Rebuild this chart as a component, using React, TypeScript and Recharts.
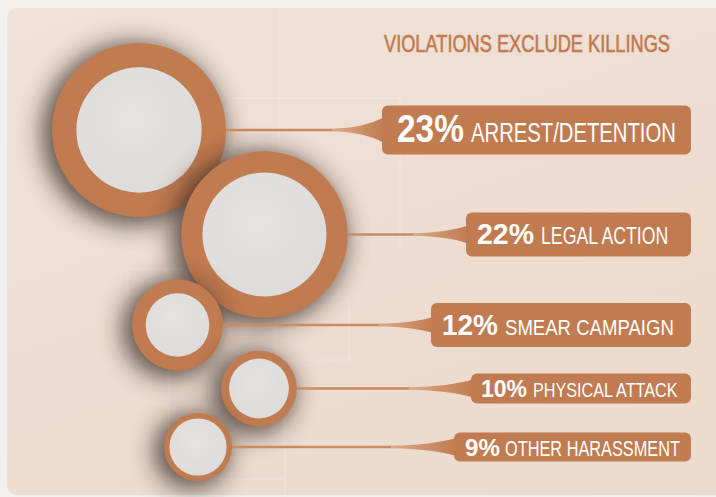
import { ScatterChart, Scatter, XAxis, YAxis, ZAxis, Customized } from 'recharts';

const title = 'VIOLATIONS EXCLUDE KILLINGS';
const categories = ['ARREST/DETENTION', 'LEGAL ACTION', 'SMEAR CAMPAIGN', 'PHYSICAL ATTACK', 'OTHER HARASSMENT'];
const shares = [23, 22, 12, 10, 9];

// layout only: bubble centre, ring ratio, label box and text placement
const layout = [
  { cx: 139, cy: 130, inner: 0.72, boxX: 382, boxH: 49, taperLen: 50, taperH: 26, pctX: 397, pctW: 67, pctSize: 38.5, lblX: 471, lblW: 205, lblSize: 27, base: 11.5 },
  { cx: 264.5, cy: 234.5, inner: 0.745, boxX: 466, boxH: 44, taperLen: 53, taperH: 18, pctX: 477, pctW: 57, pctSize: 30, lblX: 541, lblW: 129, lblSize: 23, base: 9.5 },
  { cx: 177.5, cy: 325, inner: 0.7, boxX: 431, boxH: 44, taperLen: 52, taperH: 16, pctX: 442, pctW: 56, pctSize: 30, lblX: 505, lblW: 169, lblSize: 23, base: 9.5 },
  { cx: 259, cy: 388.5, inner: 0.79, boxX: 471, boxH: 30, taperLen: 62, taperH: 18, pctX: 481, pctW: 46, pctSize: 24.5, lblX: 533, lblW: 146, lblSize: 20, base: 8.5 },
  { cx: 198, cy: 447, inner: 0.84, boxX: 454, boxH: 29, taperLen: 63, taperH: 18, pctX: 465, pctW: 35, pctSize: 24.5, lblX: 505, lblW: 175, lblSize: 21.5, base: 8.5 },
];

const BOX_RIGHT = 691;
const BROWN = '#c17b50';
const FONT = "'Liberation Sans', Arial, sans-serif";
const maxShare = Math.max(...shares);
const MAX_R = 87;

const data = shares.map((v, i) => ({
  x: layout[i].cx,
  y: layout[i].cy,
  z: v * v, // radius grows linearly with the share
  share: v,
  label: categories[i],
  lay: layout[i],
}));

let ctx: CanvasRenderingContext2D | null = null;
const textWidth = (txt: string, size: number, weight: number) => {
  if (!ctx) ctx = document.createElement('canvas').getContext('2d');
  if (!ctx) return txt.length * size * 0.6;
  ctx.font = `${weight} ${size}px 'Liberation Sans', Arial, sans-serif`;
  return ctx.measureText(txt).width;
};

// condensed look: squeeze a normal face horizontally to the measured width
const Narrow = ({ x, y, w, size, weight = 400, fill = '#fff', children }: any) => {
  const s = w / textWidth(children, size, weight);
  return (
    <text
      transform={`translate(${x},${y}) scale(${s},1)`}
      fontFamily={FONT}
      fontWeight={weight}
      fontSize={size}
      fill={fill}
    >
      {children}
    </text>
  );
};

const Bubble = (props: any) => {
  const { cx, cy, payload } = props;
  if (cx == null || cy == null || !payload) return null;
  const r = props.width ? props.width / 2 : Math.sqrt((props.size || 0) / Math.PI);
  const l = payload.lay;
  const lineStart = cx + r;
  const tx = l.boxX - l.taperLen;
  const boxTop = cy - l.boxH / 2;
  const h = l.taperH / 2;
  return (
    <g>
      <circle cx={cx - 6} cy={cy + 4} r={r + 4} fill="#2e211a" opacity={0.75} filter="url(#blurShadow)" />
      <line x1={lineStart} y1={cy} x2={tx + 2} y2={cy} stroke="#cc8b62" strokeWidth={2.5} />
      <path
        d={`M${tx},${cy - 1.3} Q${l.boxX - l.taperLen * 0.35},${cy - 2} ${l.boxX + 2},${cy - h} L${l.boxX + 2},${cy + h} Q${l.boxX - l.taperLen * 0.35},${cy + 2} ${tx},${cy + 1.3} Z`}
        fill="url(#taperGrad)"
      />
      <circle cx={cx} cy={cy} r={r} fill={BROWN} />
      <circle cx={cx} cy={cy} r={r * l.inner} fill="url(#discGrad)" />
      <rect x={l.boxX} y={boxTop} width={BOX_RIGHT - l.boxX} height={l.boxH} rx={6} fill={BROWN} />
      <Narrow x={l.pctX} y={cy + l.base} w={l.pctW} size={l.pctSize} weight={700}>
        {`${payload.share}%`}
      </Narrow>
      <Narrow x={l.lblX} y={cy + l.base} w={l.lblW} size={l.lblSize}>
        {payload.label}
      </Narrow>
    </g>
  );
};

// faint decorative guide lines seen across the panel
const guides = [
  [128, 98, 128, 226], [128, 98, 400, 98], [400, 98, 400, 250], [128, 226, 276, 226],
  [279, 8, 279, 250], [128, 269, 276, 269], [128, 269, 128, 360], [128, 360, 358, 360],
  [169, 297, 169, 480], [169, 297, 349, 297], [349, 297, 349, 360], [169, 479, 284, 479],
  [276, 250, 276, 360], [285, 360, 285, 497],
];

const Guides = () => (
  <g>
    {guides.map((g, i) => (
      <line key={i} x1={g[0]} y1={g[1]} x2={g[2]} y2={g[3]} stroke="#ffffff" strokeOpacity={0.25} strokeWidth={1} />
    ))}
    <g stroke="#c07a4e" strokeWidth={0.6}>
      <Narrow x={384} y={52} w={286} size={24} fill="#c07a4e">
        {title}
      </Narrow>
    </g>
  </g>
);

export default function App() {
  return (
    <div style={{ position: 'absolute', left: 0, top: 0, width: 716, height: 497, background: '#f1f0ee', overflow: 'hidden' }}>
      <div
        style={{
          position: 'absolute',
          left: 7,
          top: 8,
          width: 720,
          height: 487,
          borderRadius: 10,
          background: 'linear-gradient(160deg, #f0e2d8 0%, #eddcd0 60%, #ebdbcf 100%)',
        }}
      />
      <div style={{ position: 'absolute', left: 0, top: 0 }}>
        <ScatterChart width={716} height={497} margin={{ top: 0, right: 0, bottom: 0, left: 0 }}>
          <defs>
            <filter id="blurShadow" x="-60%" y="-60%" width="220%" height="220%">
              <feGaussianBlur stdDeviation="12" />
            </filter>
            <linearGradient id="taperGrad" x1="0" y1="0" x2="1" y2="0">
              <stop offset="0%" stopColor="#dcab88" />
              <stop offset="100%" stopColor={BROWN} />
            </linearGradient>
            <radialGradient id="discGrad" cx="45%" cy="40%" r="70%">
              <stop offset="0%" stopColor="#e4e3e1" />
              <stop offset="100%" stopColor="#dcdbd9" />
            </radialGradient>
          </defs>
          <XAxis type="number" dataKey="x" domain={[0, 716]} allowDataOverflow hide />
          <YAxis type="number" dataKey="y" domain={[0, 497]} allowDataOverflow reversed hide />
          <ZAxis type="number" dataKey="z" domain={[0, maxShare * maxShare]} range={[0, Math.PI * MAX_R * MAX_R]} />
          <Scatter data={data} shape={(p: any) => <Bubble {...p} />} isAnimationActive={false} />
          <Customized component={<Guides />} />
        </ScatterChart>
      </div>
    </div>
  );
}
